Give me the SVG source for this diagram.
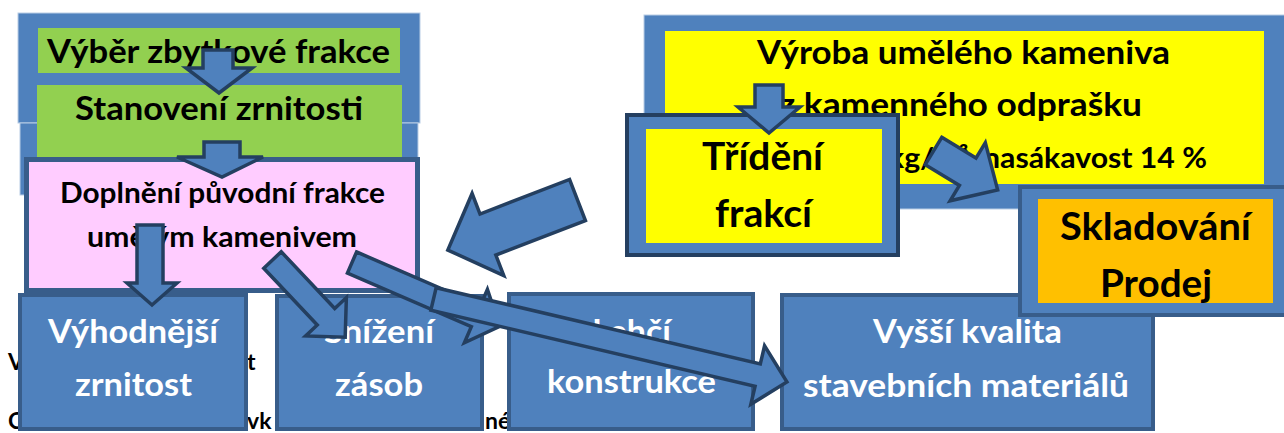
<svg xmlns="http://www.w3.org/2000/svg" width="1284" height="433" viewBox="0 0 1284 433">
<style>
.t{font-family:Lato,"Open Sans","Liberation Sans",sans-serif;font-weight:bold}
.k{fill:#000}
.w{fill:#fff}
.frame{fill:#4F81BD;stroke:#B9CDE5;stroke-width:1}
.box{fill:#4F81BD;stroke:#385D8A;stroke-width:4}
.dbox{fill:#4F81BD;stroke:#243F60;stroke-width:4}
.arr{fill:#4F81BD;stroke:#243F60;stroke-width:3.5;stroke-linejoin:miter}
</style>
<rect width="1284" height="433" fill="#fff"/>
<g id="bgtext" class="t k" font-size="23">
<text x="8" y="370">V</text>
<text x="247" y="370">t</text>
<text x="8" y="429">C</text>
<text x="247" y="429">vk</text>
<text x="485" y="429">né</text>
</g>
<g id="frame-left">
<rect class="frame" x="18" y="13" width="402" height="110"/>
<rect class="frame" x="20" y="123" width="398" height="72"/>
</g>
<g id="vyber">
<rect x="38" y="28" width="362" height="45" fill="#92D050"/>
<text class="t k" x="47" y="63" font-size="33" textLength="343" lengthAdjust="spacingAndGlyphs">Výběr zbytkové frakce</text>
</g>
<g id="stanoveni">
<rect x="37" y="85" width="365" height="85" fill="#92D050"/>
<text class="t k" x="75" y="120" font-size="33" textLength="288" lengthAdjust="spacingAndGlyphs">Stanovení zrnitosti</text>
</g>
<g id="doplneni">
<rect x="26.5" y="159.5" width="391" height="131" fill="#FFCCFF" stroke="#385D8A" stroke-width="5"/>
<text class="t k" x="60" y="203" font-size="29" textLength="325" lengthAdjust="spacingAndGlyphs">Doplnění původní frakce</text>
<text class="t k" x="87" y="247" font-size="29" textLength="270" lengthAdjust="spacingAndGlyphs">umělým kamenivem</text>
</g>
<g id="vyhodnejsi">
<rect class="box" x="20" y="295" width="226" height="134"/>
<text class="t w" x="48" y="343" font-size="33" textLength="170" lengthAdjust="spacingAndGlyphs">Výhodnější</text>
<text class="t w" x="75" y="396" font-size="33" textLength="117" lengthAdjust="spacingAndGlyphs">zrnitost</text>
</g>
<g id="snizeni">
<rect class="box" x="277" y="296" width="205" height="133"/>
<text class="t w" x="324" y="343" font-size="33" textLength="110" lengthAdjust="spacingAndGlyphs">Snížení</text>
<text class="t w" x="335" y="396" font-size="33" textLength="88" lengthAdjust="spacingAndGlyphs">zásob</text>
</g>
<g id="lehci">
<rect class="box" x="509" y="294" width="244" height="135"/>
<text class="t w" x="592" y="343" font-size="33" textLength="79" lengthAdjust="spacingAndGlyphs">Lehčí</text>
<text class="t w" x="547" y="393" font-size="33" textLength="169" lengthAdjust="spacingAndGlyphs">konstrukce</text>
</g>
<g id="vyssi">
<rect class="box" x="782" y="295" width="371" height="134"/>
<text class="t w" x="873" y="343" font-size="33" textLength="189" lengthAdjust="spacingAndGlyphs">Vyšší kvalita</text>
<text class="t w" x="803" y="397" font-size="33" textLength="326" lengthAdjust="spacingAndGlyphs">stavebních materiálů</text>
</g>
<g id="vyroba">
<rect class="frame" x="644" y="15" width="650" height="194"/>
<rect x="665" y="31" width="599" height="153" fill="#FFFF00"/>
<text class="t k" x="757" y="64" font-size="33" textLength="413" lengthAdjust="spacingAndGlyphs">Výroba umělého kameniva</text>
<text class="t k" x="779" y="116" font-size="33" textLength="363" lengthAdjust="spacingAndGlyphs">z kamenného odprašku</text>
<text class="t k" x="888" y="168" font-size="29" textLength="319" lengthAdjust="spacingAndGlyphs">kg/m³, nasákavost 14 %</text>
</g>
<g id="trideni">
<rect class="dbox" x="627" y="115" width="271" height="140"/>
<rect x="646" y="129" width="236" height="114" fill="#FFFF00"/>
<text class="t k" x="702" y="170" font-size="38" textLength="121" lengthAdjust="spacingAndGlyphs">Třídění</text>
<text class="t k" x="715" y="227" font-size="38" textLength="97" lengthAdjust="spacingAndGlyphs">frakcí</text>
</g>
<g id="skladovani">
<rect class="box" x="1020" y="187" width="280" height="128"/>
<rect x="1038" y="199" width="235" height="104" fill="#FFC000"/>
<text class="t k" x="1060" y="240" font-size="38" textLength="191" lengthAdjust="spacingAndGlyphs">Skladování</text>
<text class="t k" x="1100" y="297" font-size="38" textLength="112" lengthAdjust="spacingAndGlyphs">Prodej</text>
</g>
<g id="connectors">
<polygon class="arr" points="203,50 233,50 233,68 252,68 219,93 186,68 203,68"/>
<polygon class="arr" points="204,142 240,142 240,157 263,157 222,177 177,157 204,157"/>
<polygon class="arr" points="137,225 163,225 163,283 177,283 152,305 127,283 137,283"/>
<polygon class="arr" transform="translate(272.5,260) rotate(46.7)" points="0,-12 78,-12 78,-28 106,0 78,28 78,12 0,12"/>
<polygon class="arr" transform="translate(352,262.5) rotate(23.4)" points="0,-11.5 135,-11.5 135,-29 161,0 135,29 135,11.5 0,11.5"/>
<polygon class="arr" transform="translate(433.5,299) rotate(13.2)" points="0,-11.5 333,-11.5 333,-30 363,0 333,30 333,11.5 0,11.5"/>
<polygon class="arr" transform="translate(577.5,200) rotate(158.9)" points="0,-22 96,-22 96,-44 139,0 96,44 96,22 0,22"/>
<polygon class="arr" points="755,85 783,85 783,107 800,107 769,133 738,107 755,107"/>
<polygon class="arr" transform="translate(933.5,151) rotate(31.2)" points="0,-16 40,-16 40,-34 75,0 40,34 40,16 0,16"/>
</g>
</svg>
